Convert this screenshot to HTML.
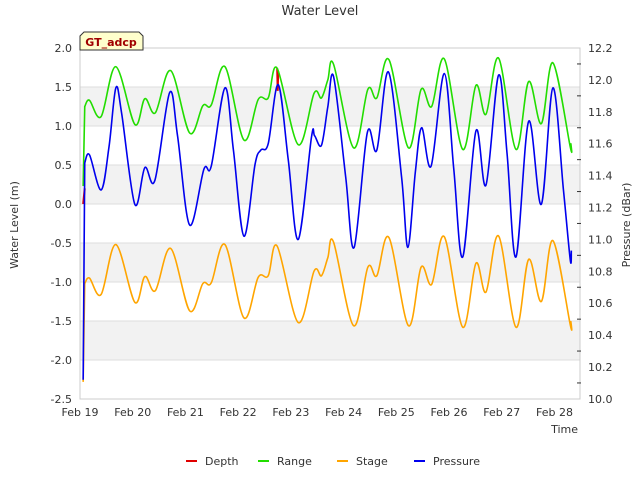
<!DOCTYPE html>
<html><head><meta charset="utf-8"><style>
body{margin:0;background:#fff;font-family:"Liberation Sans","DejaVu Sans",sans-serif}
svg text{font-family:"DejaVu Sans","Liberation Sans",sans-serif}
</style></head><body>
<svg id="chart" width="640" height="480" viewBox="0 0 640 480">
<rect x="0" y="0" width="640" height="480" fill="#fff"/>
<g id="bands"></g>
<g id="grid"></g>
<rect x="80" y="48" width="500" height="351" fill="none" stroke="#ccc"/>
<g id="axes"></g>
<g id="series"></g>
<text x="320" y="15" text-anchor="middle" font-size="13" fill="#333">Water Level</text>
<text transform="translate(18,225) rotate(-90)" text-anchor="middle" font-size="11" fill="#333">Water Level (m)</text>
<text transform="translate(630,225) rotate(-90)" text-anchor="middle" font-size="11" fill="#333">Pressure (dBar)</text>
<text x="578" y="433" text-anchor="end" font-size="11" fill="#333">Time</text>
<g>
<path d="M80,50 L80,36 L84,32 L139,32 L143,36 L143,50 Z" fill="#ffffcc" stroke="#333"/>
<text x="111" y="46" text-anchor="middle" font-size="11" font-weight="bold" fill="#a00000">GT_adcp</text>
</g>
<g id="legend"></g>
</svg>
<script>
const xTickLabels=["Feb 19","Feb 20","Feb 21","Feb 22","Feb 23","Feb 24","Feb 25","Feb 26","Feb 27","Feb 28"];
const yTicks=[2.0,1.5,1.0,0.5,0.0,-0.5,-1.0,-1.5,-2.0,-2.5];
const rTicks=[12.2,12.0,11.8,11.6,11.4,11.2,11.0,10.8,10.6,10.4,10.2,10.0];
const rangeDays=[0.06,0.09,0.18,0.40,0.68,1.04,1.23,1.43,1.72,2.08,2.33,2.49,2.75,3.11,3.38,3.57,3.74,4.14,4.44,4.58,4.70,4.81,5.19,5.46,5.63,5.86,6.23,6.47,6.67,6.91,7.26,7.51,7.70,7.94,8.27,8.51,8.75,8.97,9.30,9.31];
const rangeVals=[0.23,1.25,1.33,1.12,1.76,1.02,1.35,1.17,1.71,0.91,1.26,1.27,1.76,0.82,1.34,1.36,1.74,0.76,1.42,1.36,1.59,1.79,0.72,1.47,1.36,1.85,0.72,1.47,1.25,1.86,0.70,1.52,1.15,1.87,0.70,1.57,1.03,1.81,0.73,0.78];
const stageDays=[0.06,0.09,0.18,0.40,0.68,1.04,1.23,1.43,1.72,2.08,2.33,2.49,2.75,3.11,3.38,3.57,3.74,4.14,4.44,4.58,4.70,4.81,5.19,5.46,5.63,5.86,6.23,6.47,6.67,6.91,7.26,7.51,7.70,7.94,8.27,8.51,8.75,8.97,9.30,9.31];
const stageVals=[-2.28,-1.02,-0.95,-1.16,-0.52,-1.26,-0.93,-1.11,-0.57,-1.37,-1.02,-1.01,-0.52,-1.46,-0.94,-0.92,-0.54,-1.52,-0.86,-0.92,-0.69,-0.49,-1.56,-0.81,-0.92,-0.43,-1.56,-0.81,-1.03,-0.42,-1.58,-0.76,-1.13,-0.41,-1.58,-0.71,-1.25,-0.47,-1.55,-1.50];
const depthDays=[0.06,0.09,3.74,3.75,3.76];
const depthVals=[0.0,0.2,1.74,1.45,1.70];
const pressDays=[0.06,0.09,0.18,0.40,0.55,0.68,0.79,1.04,1.23,1.42,1.70,1.85,2.08,2.35,2.49,2.75,2.91,3.11,3.32,3.43,3.57,3.76,3.95,4.14,4.39,4.45,4.58,4.70,4.81,5.04,5.20,5.45,5.63,5.85,6.10,6.22,6.36,6.48,6.66,6.91,7.09,7.26,7.51,7.70,7.94,8.10,8.27,8.51,8.75,8.97,9.17,9.30,9.32];
const pressVals=[10.12,11.48,11.53,11.31,11.58,11.95,11.79,11.22,11.45,11.37,11.92,11.65,11.09,11.44,11.46,11.95,11.56,11.02,11.47,11.56,11.60,11.97,11.50,11.00,11.64,11.65,11.59,11.83,12.02,11.39,10.95,11.67,11.56,12.05,11.39,10.95,11.42,11.70,11.46,12.04,11.44,10.89,11.68,11.34,12.03,11.54,10.89,11.74,11.22,11.95,11.31,10.87,10.93];

const NS="http://www.w3.org/2000/svg";
const X=d=>80+d*52.72;
const Y=v=>48+(2-v)*78;
const YR=p=>48+(12.2-p)*159.5;
function mk(tag,attrs,parent){const e=document.createElementNS(NS,tag);for(const k in attrs)e.setAttribute(k,attrs[k]);parent.appendChild(e);return e;}
const bands=document.getElementById('bands'),grid=document.getElementById('grid'),axes=document.getElementById('axes'),ser=document.getElementById('series'),leg=document.getElementById('legend');
[[1.5,1.0],[0.5,0.0],[-0.5,-1.0],[-1.5,-2.0]].forEach(b=>{
 const r=mk('rect',{x:80,y:Y(b[0]),width:500,height:Y(b[1])-Y(b[0]),fill:'#f2f2f2'},bands);
 
 
});
yTicks.forEach(v=>{
 const l=mk('line',{x1:80,x2:580,y1:Y(v),y2:Y(v),stroke:'#ddd'},grid);
 
 
 const t=mk('text',{x:72,y:Y(v)+4,'text-anchor':'end','font-size':11,fill:'#333'},axes);
 t.textContent=v.toFixed(1);
 
 
});
rTicks.forEach(p=>{
 const t=mk('text',{x:588,y:YR(p)+4,'font-size':11,fill:'#333'},axes);
 t.textContent=p.toFixed(1);
 
 
});
for(let p=12.1;p>10.0;p-=0.2){const tk=mk('line',{x1:577,x2:581,y1:YR(p),y2:YR(p),stroke:'#333'},axes);
 
 }
xTickLabels.forEach((s,i)=>{
 const t=mk('text',{x:X(i),y:416,'text-anchor':'middle','font-size':11,fill:'#333'},axes);
 t.textContent=s;
 
 
});
function path(days,vals,yf){
 const p=days.map((d,i)=>[X(d),yf(vals[i])]);
 let s='M'+p[0][0]+','+p[0][1]+' L'+p[1][0]+','+p[1][1];
 for(let i=1;i<p.length-1;i++){
  const p0=p[i-1<1?1:i-1],p1=p[i],p2=p[i+1],p3=p[Math.min(i+2,p.length-1)];
  const c1=[p1[0]+(p2[0]-p0[0])/6,p1[1]+(p2[1]-p0[1])/6],c2=[p2[0]-(p3[0]-p1[0])/6,p2[1]-(p3[1]-p1[1])/6];
  s+=' C'+c1+' '+c2+' '+p2;
 }
 return s;
}
const d1=mk('path',{d:'M'+X(depthDays[0])+','+Y(depthVals[0])+' L'+X(depthDays[1])+','+Y(depthVals[1])+' M'+X(depthDays[2])+','+Y(depthVals[2])+' L'+X(depthDays[3])+','+Y(depthVals[3])+' L'+X(depthDays[4])+','+Y(depthVals[4]),fill:'none',stroke:'#e00000','stroke-width':2},ser);


const r1=mk('path',{d:path(rangeDays,rangeVals,Y),fill:'none',stroke:'#22dd00','stroke-width':1.6},ser);


const s1=mk('path',{d:path(stageDays,stageVals,Y),fill:'none',stroke:'#ffa500','stroke-width':1.6},ser);


const p1=mk('path',{d:path(pressDays,pressVals,YR),fill:'none',stroke:'#0000ee','stroke-width':1.6},ser);


[['Depth','#e00000',186],['Range','#22dd00',258],['Stage','#ffa500',337],['Pressure','#0000ee',414]].forEach(e=>{
 const g=mk('g',{},leg);
 
 
 mk('line',{x1:e[2],x2:e[2]+11,y1:461,y2:461,stroke:e[1],'stroke-width':2},g);
 const t=mk('text',{x:e[2]+19,y:465,'font-size':11,fill:'#333'},g);
 t.textContent=e[0];
});
</script>
</body></html>
